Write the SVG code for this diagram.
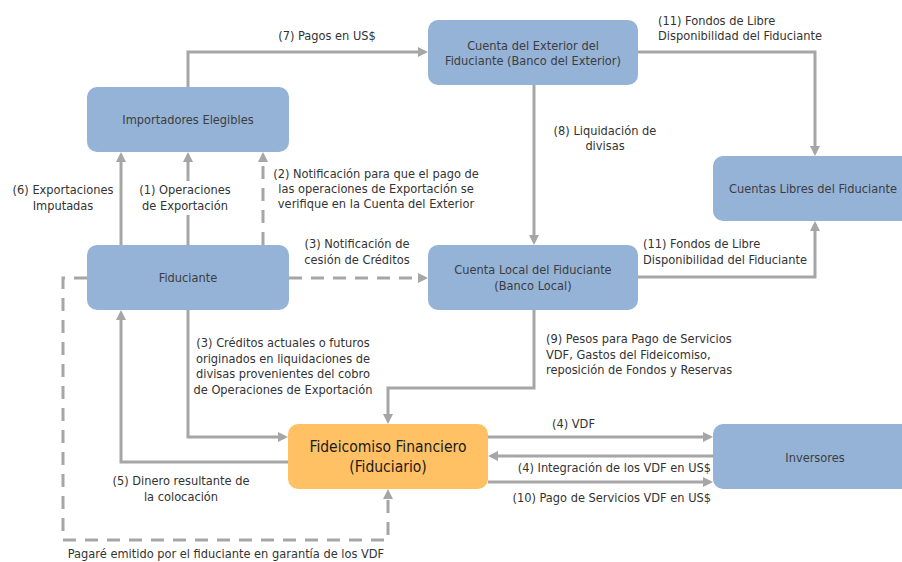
<svg xmlns="http://www.w3.org/2000/svg" width="902" height="562" viewBox="0 0 902 562">
<defs>
<marker id="ah" viewBox="0 0 10 10" refX="7" refY="5" markerWidth="10" markerHeight="10" markerUnits="userSpaceOnUse" orient="auto">
<path d="M0,0 L10,5 L0,10 z" fill="#a6a6a6"/>
</marker>
<style>
.node{fill:#95b3d7}
.orange{fill:#ffc164}
.nt{font-family:"DejaVu Sans Condensed","DejaVu Sans",sans-serif;font-size:12.7px;fill:#3d3d3d;text-anchor:middle}
.big{font-family:"DejaVu Sans Condensed","DejaVu Sans",sans-serif;font-size:15.5px;fill:#1a1a1a;text-anchor:middle}
.lb{font-family:"DejaVu Sans Condensed","DejaVu Sans",sans-serif;font-size:12.7px;fill:#333}
.c{text-anchor:middle}
.e{text-anchor:end}
.ln{fill:none;stroke:#a6a6a6;stroke-width:3}
.arr{marker-end:url(#ah)}
.d{stroke-dasharray:13 9}
</style>
</defs>
<rect width="902" height="562" fill="#ffffff"/>
<g id="connectors">
<path class="ln arr" d="M188,87 V52 H425"/>
<path class="ln arr" d="M638,52 H815 V153"/>
<path class="ln arr" d="M534,85 V242"/>
<path class="ln arr" d="M121,245 V155"/>
<path class="ln arr" d="M188,245 V155"/>
<path class="ln arr d" d="M263,245 V155"/>
<path class="ln arr d" d="M289,278 H425"/>
<path class="ln arr d" d="M87,278 H63 V540 H388 V492"/>
<path class="ln arr" d="M188,310 V437 H285"/>
<path class="ln arr" d="M288,462 H121 V313"/>
<path class="ln arr" d="M534,310 V388 H388 V421"/>
<path class="ln arr" d="M638,277 H815 V224"/>
<path class="ln arr" d="M488,437 H710"/>
<path class="ln arr" d="M713,456 H491"/>
<path class="ln arr" d="M488,482 H710"/>
</g>
<g id="labels">
<text class="lb c" x="327" y="40">(7) Pagos en US$</text>
<text class="lb" x="658" y="25">(11) Fondos de Libre</text>
<text class="lb" x="658" y="40">Disponibilidad del Fiduciante</text>
<text class="lb c" x="605" y="135">(8) Liquidación de</text>
<text class="lb c" x="605" y="150">divisas</text>
<text class="lb c" x="63" y="194">(6) Exportaciones</text>
<text class="lb c" x="63" y="210">Imputadas</text>
<rect x="137" y="181" width="96" height="34" fill="#ffffff"/>
<text class="lb c" x="185" y="194">(1) Operaciones</text>
<text class="lb c" x="185" y="210">de Exportación</text>
<text class="lb c" x="376" y="178">(2) Notificación para que el pago de</text>
<text class="lb c" x="376" y="193">las operaciones de Exportación se</text>
<text class="lb c" x="376" y="208">verifique en la Cuenta del Exterior</text>
<text class="lb c" x="357" y="248">(3) Notificación de</text>
<text class="lb c" x="357" y="264">cesión de Créditos</text>
<text class="lb" x="643" y="248">(11) Fondos de Libre</text>
<text class="lb" x="643" y="264">Disponibilidad del Fiduciante</text>
<text class="lb c" x="283" y="347">(3) Créditos actuales o futuros</text>
<text class="lb c" x="283" y="363">originados en liquidaciones de</text>
<text class="lb c" x="283" y="378">divisas provenientes del cobro</text>
<text class="lb c" x="283" y="394">de Operaciones de Exportación</text>
<text class="lb" x="546" y="343">(9) Pesos para Pago de Servicios</text>
<text class="lb" x="546" y="359">VDF, Gastos del Fideicomiso,</text>
<text class="lb" x="546" y="374">reposición de Fondos y Reservas</text>
<text class="lb" x="552" y="428">(4) VDF</text>
<text class="lb e" x="711" y="472">(4) Integración de los VDF en US$</text>
<text class="lb e" x="711" y="502">(10) Pago de Servicios VDF en US$</text>
<text class="lb c" x="181" y="485">(5) Dinero resultante de</text>
<text class="lb c" x="181" y="501">la colocación</text>
<text class="lb c" x="226" y="558">Pagaré emitido por el fiduciante en garantía de los VDF</text>
</g>
<g id="importadores">
<rect class="node" x="87" y="87" width="202" height="65" rx="10"/>
<text class="nt" x="188" y="124">Importadores Elegibles</text>
</g>
<g id="cuenta-exterior">
<rect class="node" x="428" y="20" width="210" height="65" rx="10"/>
<text class="nt" x="533" y="50">Cuenta del Exterior del</text>
<text class="nt" x="533" y="65">Fiduciante (Banco del Exterior)</text>
</g>
<g id="cuentas-libres">
<rect class="node" x="713" y="156" width="200" height="65" rx="10"/>
<text class="nt" x="813" y="193">Cuentas Libres del Fiduciante</text>
</g>
<g id="fiduciante">
<rect class="node" x="87" y="245" width="202" height="65" rx="10"/>
<text class="nt" x="188" y="282">Fiduciante</text>
</g>
<g id="cuenta-local">
<rect class="node" x="428" y="245" width="210" height="65" rx="10"/>
<text class="nt" x="533" y="274">Cuenta Local del Fiduciante</text>
<text class="nt" x="533" y="290">(Banco Local)</text>
</g>
<g id="fideicomiso">
<rect class="orange" x="288" y="424" width="200" height="65" rx="10"/>
<text class="big" x="388" y="452">Fideicomiso Financiero</text>
<text class="big" x="388" y="472">(Fiduciario)</text>
</g>
<g id="inversores">
<rect class="node" x="713" y="424" width="200" height="65" rx="10"/>
<text class="nt" x="815" y="462">Inversores</text>
</g>
</svg>
